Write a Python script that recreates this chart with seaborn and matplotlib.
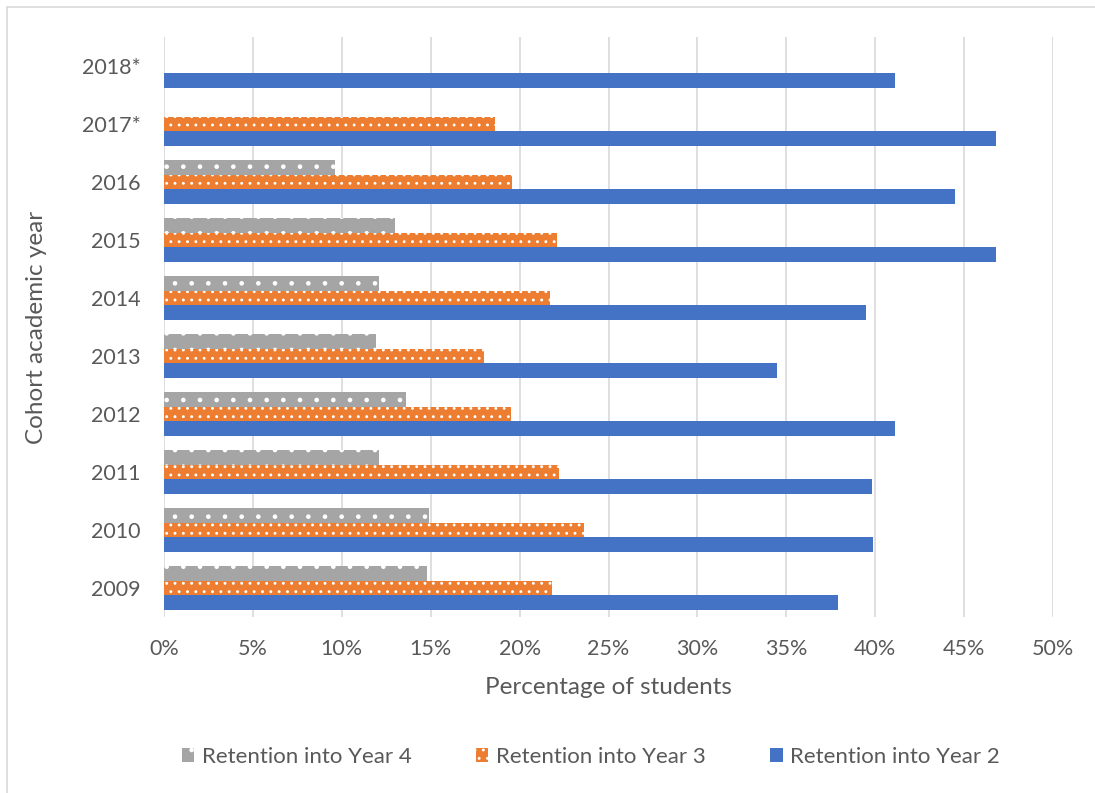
import numpy as np
import pandas as pd
import matplotlib
matplotlib.use("Agg")
import matplotlib.pyplot as plt
import seaborn as sns
from matplotlib.lines import Line2D
from matplotlib.patches import Patch

# ---- data ----
cohorts = ["2018*", "2017*", "2016", "2015", "2014", "2013", "2012", "2011", "2010", "2009"]
year4 = [np.nan, np.nan, 9.6, 13.0, 12.1, 11.9, 13.6, 12.1, 14.9, 14.8]
year3 = [np.nan, 18.6, 19.6, 22.1, 21.7, 18.0, 19.5, 22.2, 23.6, 21.8]
year2 = [41.1, 46.8, 44.5, 46.8, 39.5, 34.5, 41.1, 39.8, 39.85, 37.9]
series_names = ["Retention into Year 4", "Retention into Year 3", "Retention into Year 2"]
xticks = [0, 5, 10, 15, 20, 25, 30, 35, 40, 45, 50]

colors = {"Retention into Year 4": "#A5A5A5",
          "Retention into Year 3": "#ED7D31",
          "Retention into Year 2": "#4472C4"}
hatches = {"Retention into Year 4": ".",
           "Retention into Year 3": "..",
           "Retention into Year 2": None}

rows = []
for name, vals in zip(series_names, [year4, year3, year2]):
    for c, v in zip(cohorts, vals):
        if not np.isnan(v):
            rows.append({"cohort": c, "series": name, "value": v})
df = pd.DataFrame(rows)

sns.set_theme(style="white")
plt.rcParams["font.family"] = ["Lato", "DejaVu Sans"]
plt.rcParams["hatch.linewidth"] = 0.9
text_color = "#595959"

fig = plt.figure(figsize=(10.95, 7.93), dpi=100)
ax = fig.add_axes([164 / 1095, 1 - 617 / 793, (1053 - 164) / 1095, (617 - 37) / 793])

sns.barplot(data=df, y="cohort", x="value", hue="series", order=cohorts,
            hue_order=series_names, palette=colors, orient="h", width=0.75,
            saturation=1, ax=ax, legend=False, errorbar=None)

# apply hatching per series
for container, name in zip(ax.containers, series_names):
    for bar in container:
        if hatches[name]:
            bar.set_hatch(hatches[name])
            bar.set_edgecolor("white")
            bar.set_linewidth(0)
        else:
            bar.set_edgecolor(colors[name])
            bar.set_linewidth(0)

ax.set_xlim(0, 50)
ax.set_xticks(xticks)
ax.set_xticklabels([f"{t}%" for t in xticks])
ax.xaxis.grid(True, color="#D9D9D9", linewidth=1.2)
ax.yaxis.grid(False)
ax.set_axisbelow(True)
for s in ax.spines.values():
    s.set_visible(False)
ax.tick_params(axis="both", length=0, labelsize=15.5, colors=text_color)
ax.tick_params(axis="y", pad=17)
ax.tick_params(axis="x", pad=16)
ax.set_xlabel("Percentage of students", fontsize=17.5, color=text_color, labelpad=13)
ax.set_ylabel("Cohort academic year", fontsize=17.5, color=text_color, labelpad=25)

# legend
handles = []
for name in series_names:
    p = Patch(facecolor=colors[name], edgecolor="white" if hatches[name] else colors[name],
              hatch=hatches[name], linewidth=0)
    handles.append(p)
leg = fig.legend(handles, series_names, loc="center", bbox_to_anchor=(591 / 1095, 1 - 757 / 793),
                 ncol=3, frameon=False, fontsize=16, handlelength=0.55, handleheight=0.55,
                 handletextpad=0.35, columnspacing=2.9)
for t in leg.get_texts():
    t.set_color(text_color)

# chart area border (top and left visible)
fig.add_artist(Line2D([7 / 1095, 1], [1 - 7 / 793, 1 - 7 / 793], color="#D9D9D9", lw=1.2,
                      transform=fig.transFigure))
fig.add_artist(Line2D([7 / 1095, 7 / 1095], [0, 1 - 7 / 793], color="#D9D9D9", lw=1.2,
                      transform=fig.transFigure))

fig.savefig("out.png", dpi=100)
